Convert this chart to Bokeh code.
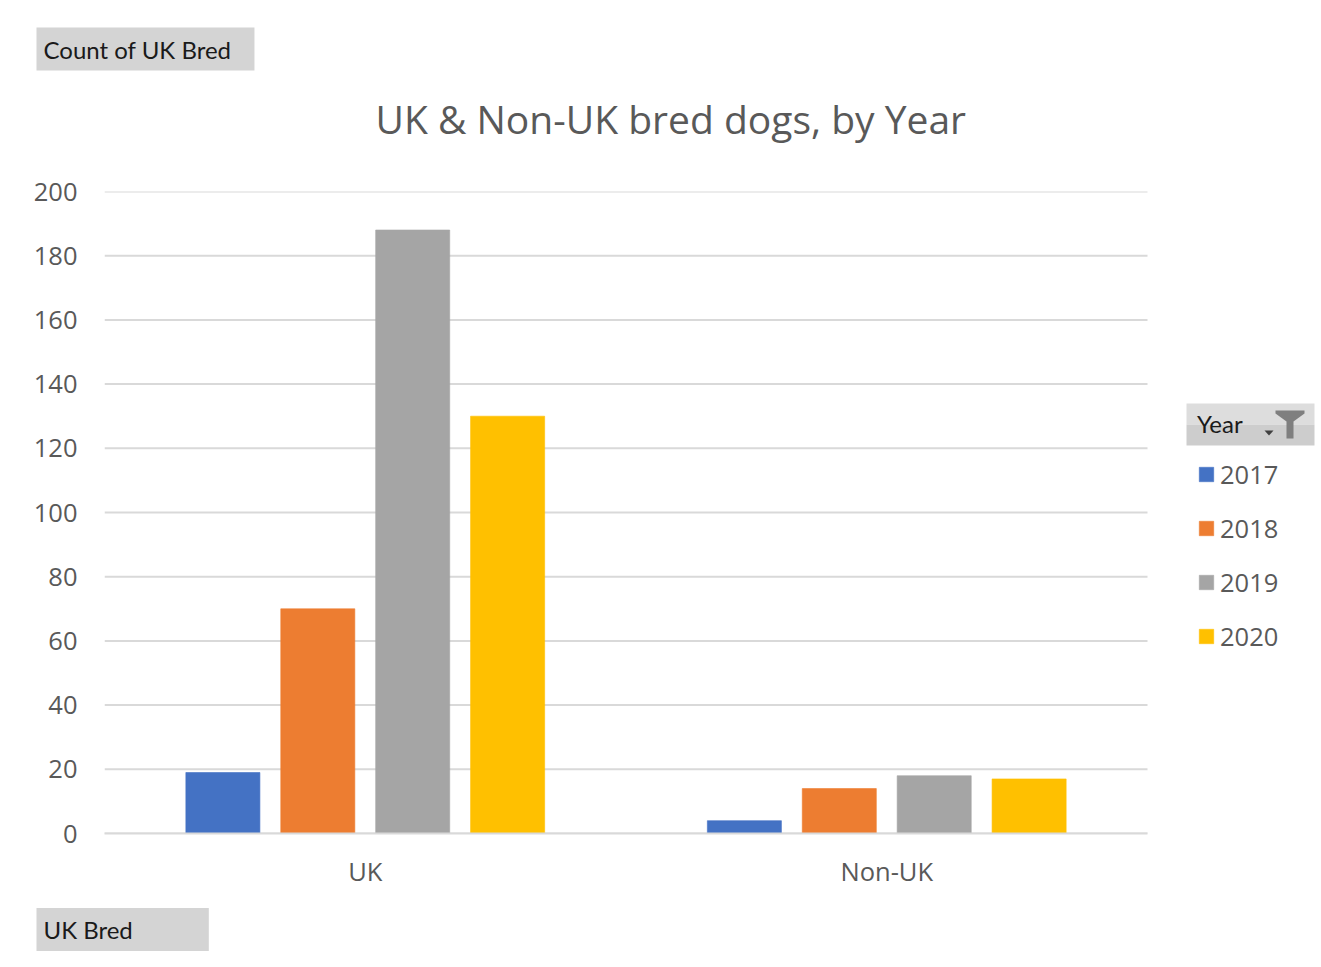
from bokeh.plotting import figure
from bokeh.models import (ColumnDataSource, Range1d, SingleIntervalTicker, FixedTicker,
                          Legend, LegendItem, Title, BoxAnnotation, PolyAnnotation)
from bokeh.transform import dodge
from bokeh.embed import file_html
from bokeh.resources import INLINE

# ---- data ----
categories = ["UK", "Non-UK"]
years = ["2017", "2018", "2019", "2020"]
counts_2017 = [19, 4]
counts_2018 = [70, 14]
counts_2019 = [188, 18]
counts_2020 = [130, 17]
colors = ["#4472C4", "#ED7D31", "#A5A5A5", "#FFC000"]
y_max = 200
y_tick_step = 20

# ---- layout constants (pixels) ----
W, H = 1321, 967
LEFT, TOP, BOTTOM = 104, 191, 134
PLOT_W = 1043                       # width of the bar area inside the frame
FRAME_W = W - LEFT                  # frame runs to the right edge (legend lives inside it)
FRAME_H = H - TOP - BOTTOM

n = len(categories)
cat_pos = [i + 0.5 for i in range(n)]
source = ColumnDataSource(dict(xc=cat_pos, y2017=counts_2017, y2018=counts_2018,
                               y2019=counts_2019, y2020=counts_2020))

p = figure(width=W, height=H, output_backend="svg", toolbar_location=None,
           x_range=Range1d(0, n * FRAME_W / PLOT_W), y_range=Range1d(0, y_max),
           min_border_left=LEFT, min_border_right=0, min_border_top=TOP,
           min_border_bottom=BOTTOM)
p.outline_line_color = None
p.title.visible = False

# axes
p.yaxis.ticker = SingleIntervalTicker(interval=y_tick_step)
p.yaxis.axis_line_color = None
p.yaxis.major_tick_line_color = None
p.yaxis.minor_tick_line_color = None
p.yaxis.major_label_text_font = "Open Sans"
p.yaxis.major_label_text_font_size = "25.5px"
p.yaxis.major_label_text_color = "#595959"
p.yaxis.major_label_standoff = 21

p.xaxis.ticker = FixedTicker(ticks=cat_pos)
p.xaxis.major_label_overrides = {x: c for x, c in zip(cat_pos, categories)}
p.xaxis.bounds = (0, n)
p.xaxis.axis_line_color = "#d9d9d9"
p.xaxis.axis_line_width = 2
p.xaxis.major_tick_line_color = None
p.xaxis.minor_tick_line_color = None
p.xaxis.major_label_text_font = "Open Sans"
p.xaxis.major_label_text_font_size = "25.5px"
p.xaxis.major_label_text_color = "#595959"
p.xaxis.major_label_standoff = 14

p.xgrid.grid_line_color = None
p.ygrid.grid_line_color = None
grid_vals = list(range(0, y_max + 1, y_tick_step))
p.segment(x0=0, x1=n, y0=grid_vals, y1=grid_vals, line_color="#d9d9d9",
          line_width=2, level="underlay")

# bars
offsets = [-0.273, -0.091, 0.091, 0.273]
renderers = []
for yr, off, col in zip(years, offsets, colors):
    r = p.vbar(x=dodge("xc", off), top="y" + yr, width=0.142, source=source,
               fill_color=col, line_color=col, line_alpha=0.6)
    renderers.append(r)

# ---- page-pixel helpers for the decorations inside the frame ----
def X(px):
    return (px - LEFT) * n / PLOT_W

def Y(py):
    return (TOP + FRAME_H - py) * y_max / FRAME_H

# "Year" field button behind the legend title
p.add_layout(BoxAnnotation(left=X(1186), right=X(1314), top=Y(403), bottom=Y(424),
                           fill_color="#dddddd", fill_alpha=1, line_color=None))
p.add_layout(BoxAnnotation(left=X(1186), right=X(1314), top=Y(424), bottom=Y(445),
                           fill_color="#cdcdcd", fill_alpha=1, line_color=None))
fx, fy = 1275, 410
fxs = [0, 29, 29, 18, 18, 11, 11, 0]
fys = [0, 0, 3, 11, 28, 28, 11, 3]
p.add_layout(PolyAnnotation(xs=[X(fx + v) for v in fxs], ys=[Y(fy + v) for v in fys],
                            fill_color="#7f7f7f", fill_alpha=1, line_color=None))
p.add_layout(PolyAnnotation(xs=[X(1264), X(1273), X(1268.5)], ys=[Y(430), Y(430), Y(435)],
                            fill_color="#404040", fill_alpha=1, line_color=None))

legend = Legend(items=[LegendItem(label=yr, renderers=[r]) for yr, r in zip(years, renderers)],
                location=(1197 - LEFT, 180), orientation="vertical",
                title="Year", title_text_font="Lato", title_text_font_size="24px",
                title_text_font_style="normal", title_text_color="#1a1a1a", title_standoff=19,
                label_text_font="Open Sans", label_text_font_size="25.5px",
                label_text_color="#595959", glyph_width=18, glyph_height=18,
                label_standoff=5, label_height=30, spacing=20, padding=0, margin=0,
                border_line_color=None, background_fill_alpha=0)
p.add_layout(legend)

# ---- title and pivot-chart field buttons (stacked outward from the frame) ----
main_title = Title(text="UK & Non-UK bred dogs, by Year", align="left", offset=271,
                   text_font="Open Sans", text_font_style="normal", text_font_size="39px",
                   text_color="#595959", standoff=39, padding=(0, 0, 0, 27))
p.add_layout(main_title, "above")

BTN = dict(text_font="Lato", text_font_size="24px", text_color="#1a1a1a",
           text_font_style="normal", background_fill_color="#d4d4d4", align="left")
count_btn = Title(text="Count of UK Bred", offset=-68, padding=(7, 23, 7, 7),
                  standoff=0, **BTN)
p.add_layout(count_btn, "above")
ukbred_btn = Title(text="UK Bred", offset=-68, padding=(7, 76, 7, 7), standoff=31, **BTN)
p.add_layout(ukbred_btn, "below")

open("out.html", "w").write(file_html(p, INLINE))
